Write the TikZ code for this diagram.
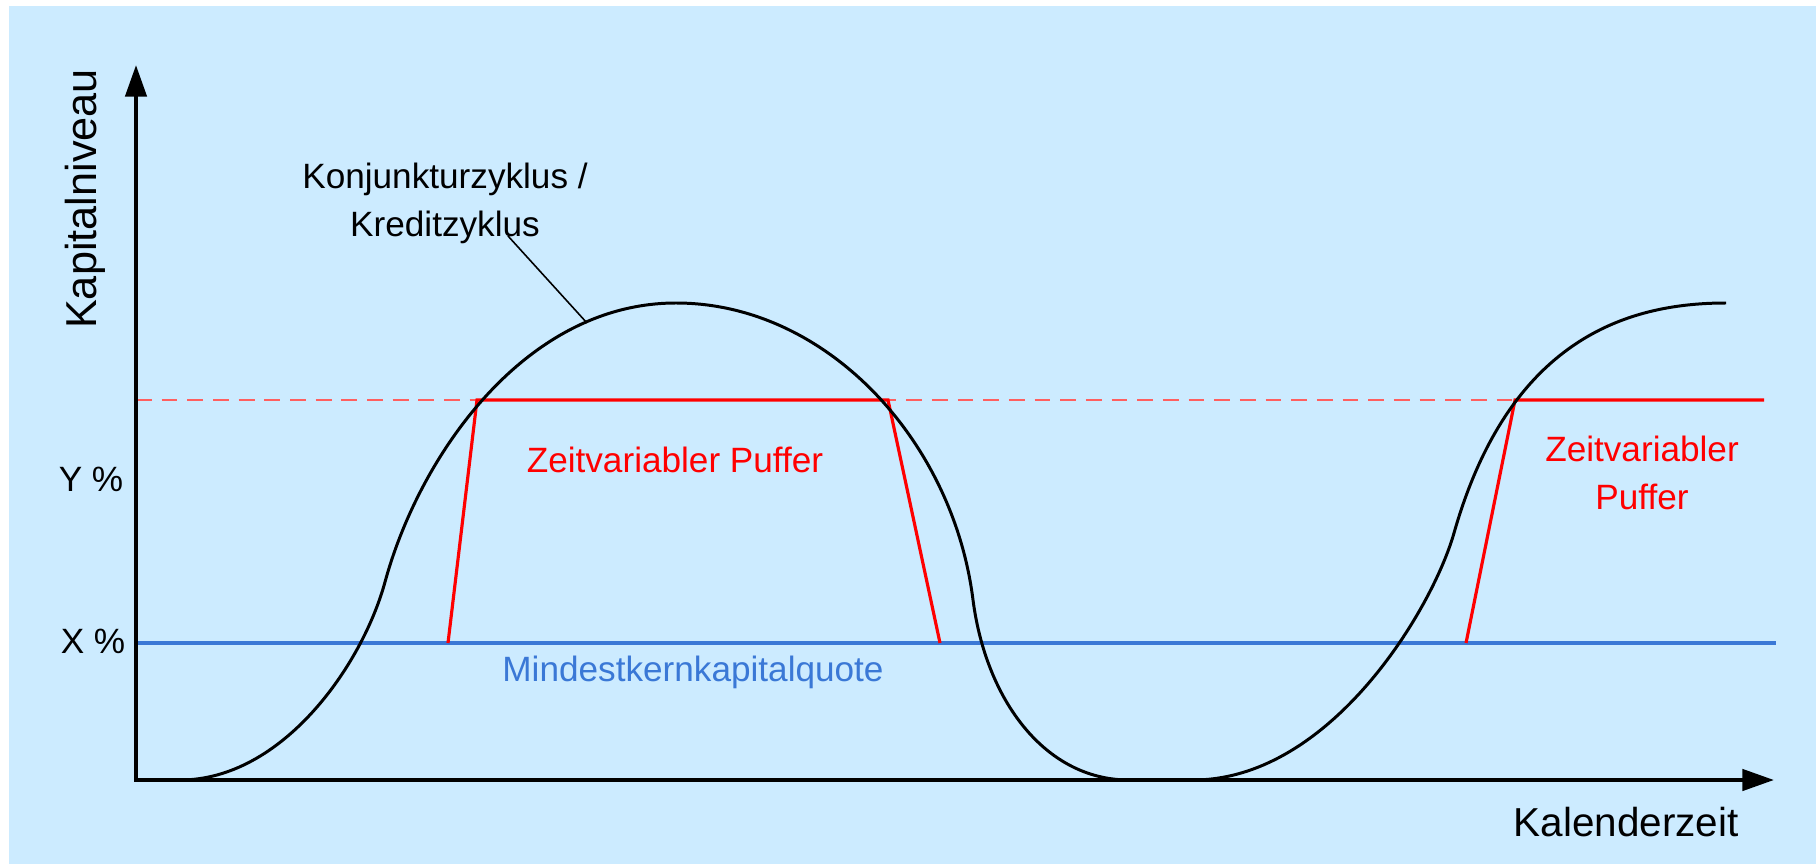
\documentclass[tikz,border=0pt]{standalone}
\usepackage{fontspec}
\setmainfont{Liberation Sans}
\usetikzlibrary{arrows.meta}
\definecolor{bgblue}{RGB}{204,235,255}
\definecolor{quoteblue}{RGB}{58,120,214}
\definecolor{lightred}{RGB}{255,95,95}
\begin{document}
\begin{tikzpicture}[x=0.01cm,y=-0.01cm,
  axisline/.style={line width=1.2pt, line join=miter,
    {Triangle[length=9pt,width=6pt]}-{Triangle[length=9pt,width=6pt]}},
  cyclecurve/.style={line width=0.85pt, line join=round},
  bufferline/.style={red, line width=0.9pt, line join=miter},
  levelline/.style={lightred, line width=0.55pt, dash pattern=on 4.5pt off 2.8pt},
  minline/.style={quoteblue, line width=0.9pt},
  leader/.style={line width=0.45pt},
  small/.style={inner sep=0pt, font=\fontsize{10}{13.66}\selectfont, align=center},
  big/.style={inner sep=0pt, font=\fontsize{11.5}{14}\selectfont}
]
\useasboundingbox (0,0) rectangle (1816,864);
\fill[bgblue] (9,6) rectangle (1816,864);

% axes
\coordinate (o) at (136,780);
\coordinate (ytip) at (136,65);
\coordinate (xtip) at (1774,780);

% levels
\coordinate (dl) at (136,400);
\coordinate (dr) at (1764,400);
\coordinate (bl) at (136,643);
\coordinate (br) at (1776,643);

\draw[levelline] (dl) -- (dr);
\draw[minline] (bl) -- (br);

% buffers
\coordinate (a1) at (448,643);
\coordinate (a2) at (477,400);
\coordinate (a3) at (888,400);
\coordinate (a4) at (940,643);
\draw[bufferline] (a1) -- (a2) -- (a3) -- (a4);
\coordinate (b1) at (1466,643);
\coordinate (b2) at (1515,400);
\coordinate (b3) at (1764,400);
\draw[bufferline] (b1) -- (b2) -- (b3);

% cycle curve
\coordinate (c0) at (180,780);
\coordinate (c1) at (385,582);
\coordinate (c2) at (676,303);
\coordinate (c3) at (973,600);
\coordinate (c4) at (1129,780);
\coordinate (c5) at (1193,780);
\coordinate (c6) at (1454,533);
\coordinate (c7) at (1726,303);
\draw[cyclecurve] (c0)
  .. controls (282,780) and (362,666) .. (c1)
  .. controls (420,454) and (526,303) .. (c2)
  .. controls (826,303) and (953,440) .. (c3)
  .. controls (986,700) and (1045,780) .. (c4)
  -- (c5)
  .. controls (1330,780) and (1432,610) .. (c6)
  .. controls (1509,340) and (1626,303) .. (c7);

\draw[axisline] (ytip) -- (o) -- (xtip);

% labels
\node[big, rotate=90, font=\fontsize{12.3}{14}\selectfont] (ylab) at (85,199) {Kapitalniveau};
\node[big] (xlab) at (1626,822) {Kalenderzeit};
\node[small] (ylev) at (91,479) {Y \%};
\node[small] (xlev) at (93,641) {X \%};
\node[small] (cyc) at (445,203) {Konjunkturzyklus /\\Kreditzyklus};
\node[small, text=red] (buf1) at (675,460) {Zeitvariabler Puffer};
\node[small, text=red] (buf2) at (1642,473) {Zeitvariabler\\Puffer};
\node[small, text=quoteblue] (minq) at (693,672) {Mindestkernkapitalquote};

\coordinate (ls) at (508,236);
\coordinate (le) at (587,323);
\draw[leader] (ls) -- (le);
\end{tikzpicture}
\end{document}
